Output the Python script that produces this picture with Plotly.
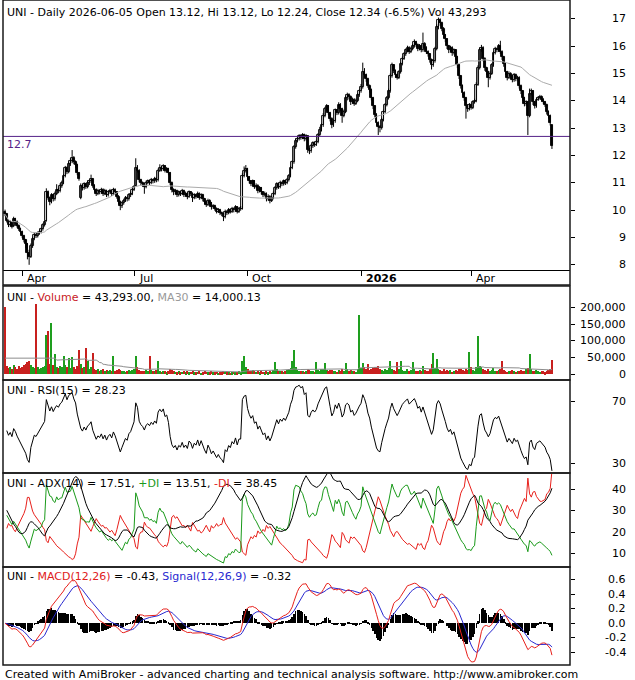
import numpy as np
import pandas as pd
import plotly.graph_objects as go
from plotly.subplots import make_subplots

# ---- data (daily bars, last bar 2026-06-05) ----
dates = pd.bdate_range(end="2026-06-05", periods=319)

opens = [
    9.95, 9.85, 9.60, 9.45, 9.55, 9.42, 9.68, 9.58, 9.42, 9.30,
    9.20, 9.05, 8.90, 8.75, 8.45, 8.30, 8.70, 8.95, 9.10, 9.05,
    9.15, 9.20, 9.30, 9.45, 9.60, 10.65, 10.45, 10.30, 10.55, 10.40,
    10.60, 10.75, 10.70, 10.90, 11.00, 11.25, 11.55, 11.40, 11.70, 11.80,
    11.90, 11.75, 11.65, 11.35, 10.45, 10.90, 10.80, 10.95, 10.85, 11.00,
    11.05, 11.15, 10.90, 10.75, 10.60, 10.70, 10.65, 10.75, 10.60, 10.70,
    10.55, 10.65, 10.70, 10.60, 10.75, 10.65, 10.50, 10.30, 10.15, 10.25,
    10.35, 10.45, 10.40, 10.55, 10.60, 10.75, 10.90, 11.55, 11.45, 11.10,
    11.00, 10.95, 10.85, 11.00, 11.05, 11.00, 11.10, 11.05, 11.15, 11.10,
    11.45, 11.55, 11.50, 11.60, 11.45, 11.50, 11.35, 11.00, 10.75, 10.65,
    10.70, 10.55, 10.65, 10.60, 10.70, 10.55, 10.60, 10.50, 10.65, 10.60,
    10.45, 10.55, 10.50, 10.60, 10.45, 10.55, 10.40, 10.30, 10.20, 10.35,
    10.25, 10.10, 10.15, 10.05, 9.95, 10.00, 9.90, 9.85, 9.75, 9.95,
    9.90, 10.00, 9.95, 10.05, 10.00, 10.10, 9.95, 10.05, 10.05, 11.25,
    11.45, 11.50, 11.20, 11.05, 10.95, 11.05, 10.85, 10.90, 10.70, 10.80,
    10.65, 10.55, 10.60, 10.40, 10.50, 10.35, 10.45, 10.60, 10.80, 10.95,
    10.85, 11.00, 10.95, 11.05, 11.00, 11.10, 11.25, 11.55, 11.75, 12.30,
    12.55, 12.60, 12.70, 12.65, 12.75, 12.60, 12.70, 12.20, 12.15, 12.35,
    12.45, 12.40, 12.50, 12.75, 12.95, 13.10, 13.45, 13.70, 13.80, 13.55,
    13.35, 13.10, 13.25, 13.65, 13.55, 13.85, 13.70, 13.45, 13.60, 14.10,
    14.20, 14.15, 13.95, 14.05, 13.90, 14.00, 14.20, 14.35, 14.50, 15.05,
    14.95, 14.80, 14.55, 14.40, 14.10, 13.80, 13.50, 13.20, 13.05, 13.00,
    13.30, 13.60, 13.85, 14.10, 14.35, 14.90, 15.30, 15.10, 14.95, 14.85,
    15.05, 15.35, 15.55, 15.70, 15.85, 15.95, 15.80, 15.90, 16.00, 16.15,
    16.05, 15.90, 16.00, 15.85, 16.10, 15.95, 15.80, 15.70, 15.50, 15.30,
    15.45, 15.90, 16.70, 16.95, 16.85, 16.65, 16.40, 16.25, 16.00, 15.85,
    15.95, 15.75, 15.85, 15.60, 15.30, 14.90, 14.55, 14.30, 14.10, 13.80,
    13.70, 13.85, 13.75, 13.95, 14.00, 14.60, 15.20, 15.85, 15.95, 15.55,
    15.20, 15.05, 14.85, 15.00, 15.30, 15.75, 15.90, 15.85, 16.00, 15.80,
    15.60, 15.35, 15.05, 14.85, 15.00, 14.90, 14.75, 14.95, 14.80, 14.85,
    14.55, 14.35, 14.10, 13.90, 13.95, 13.45, 14.25, 14.35, 13.95, 13.80,
    14.05, 14.10, 14.15, 14.05, 13.95, 13.85, 13.60, 13.45, 13.12,
]

highs = [
    10.02, 9.90, 9.66, 9.62, 9.60, 9.76, 9.72, 9.62, 9.48, 9.36,
    9.25, 9.10, 8.95, 8.80, 8.55, 8.78, 9.02, 9.18, 9.15, 9.22,
    9.28, 9.36, 9.52, 9.62, 10.80, 10.72, 10.50, 10.62, 10.60, 10.68,
    10.95, 10.82, 10.98, 11.08, 11.32, 11.62, 11.60, 11.78, 11.90, 12.20,
    11.98, 11.82, 11.70, 11.40, 10.98, 10.95, 11.02, 11.00, 11.08, 11.12,
    11.30, 11.18, 10.95, 10.80, 10.78, 10.75, 10.82, 10.80, 10.78, 10.75,
    10.72, 10.78, 10.75, 10.82, 10.80, 10.70, 10.55, 10.35, 10.32, 10.42,
    10.52, 10.50, 10.62, 10.68, 10.82, 10.92, 11.90, 11.65, 11.50, 11.15,
    11.05, 11.00, 11.08, 11.12, 11.10, 11.18, 11.15, 11.22, 11.20, 11.52,
    11.68, 11.62, 11.68, 11.65, 11.58, 11.55, 11.40, 11.05, 10.80, 10.78,
    10.75, 10.72, 10.70, 10.78, 10.75, 10.68, 10.65, 10.72, 10.70, 10.65,
    10.62, 10.60, 10.68, 10.65, 10.62, 10.60, 10.45, 10.35, 10.42, 10.40,
    10.30, 10.22, 10.20, 10.10, 10.08, 10.05, 9.95, 9.90, 10.02, 10.00,
    10.08, 10.05, 10.12, 10.10, 10.18, 10.15, 10.12, 10.15, 11.35, 11.60,
    11.65, 11.55, 11.25, 11.10, 11.12, 11.10, 10.98, 10.95, 10.88, 10.85,
    10.70, 10.68, 10.65, 10.58, 10.55, 10.52, 10.68, 10.88, 11.02, 11.00,
    11.08, 11.05, 11.12, 11.10, 11.18, 11.32, 11.62, 11.82, 12.38, 12.62,
    12.70, 12.78, 12.78, 12.82, 12.80, 12.78, 12.72, 12.28, 12.42, 12.52,
    12.50, 12.58, 12.82, 13.05, 13.18, 13.55, 13.78, 13.88, 13.85, 13.60,
    13.40, 13.32, 13.72, 13.70, 13.95, 13.92, 13.75, 13.68, 14.18, 14.30,
    14.28, 14.20, 14.12, 14.10, 14.08, 14.28, 14.42, 14.62, 15.40, 15.20,
    15.00, 14.85, 14.60, 14.45, 14.15, 13.85, 13.55, 13.25, 13.12, 13.38,
    13.68, 13.92, 14.18, 14.45, 15.00, 15.40, 15.35, 15.15, 15.00, 15.12,
    15.42, 15.62, 15.78, 15.92, 16.02, 16.00, 15.98, 16.08, 16.25, 16.20,
    16.10, 16.08, 16.05, 16.50, 16.15, 16.00, 15.85, 15.75, 15.55, 15.52,
    15.98, 16.80, 17.05, 17.02, 16.90, 16.70, 16.45, 16.30, 16.05, 16.02,
    16.00, 15.92, 15.90, 15.65, 15.35, 14.95, 14.60, 14.35, 14.15, 13.88,
    13.92, 13.90, 14.02, 14.08, 14.68, 15.30, 15.95, 16.05, 16.00, 15.60,
    15.25, 15.10, 15.08, 15.38, 15.82, 15.98, 15.95, 16.08, 16.20, 15.85,
    15.65, 15.40, 15.10, 15.08, 15.05, 14.95, 15.02, 15.00, 14.92, 14.90,
    14.60, 14.40, 14.15, 14.02, 14.00, 14.45, 14.45, 14.40, 14.00, 14.12,
    14.18, 14.22, 14.20, 14.10, 14.00, 13.90, 13.65, 13.50, 13.12,
]

lows = [
    9.78, 9.55, 9.38, 9.40, 9.33, 9.38, 9.50, 9.36, 9.24, 9.12,
    8.98, 8.82, 8.62, 8.20, 8.00, 8.25, 8.62, 8.90, 8.98, 9.00,
    9.10, 9.15, 9.25, 9.40, 9.58, 10.38, 10.18, 10.25, 10.32, 10.35,
    10.55, 10.62, 10.65, 10.82, 10.95, 11.20, 11.32, 11.35, 11.62, 11.72,
    11.68, 11.55, 11.28, 11.08, 10.40, 10.72, 10.75, 10.78, 10.80, 10.92,
    11.00, 10.82, 10.68, 10.52, 10.55, 10.58, 10.60, 10.52, 10.55, 10.48,
    10.50, 10.60, 10.52, 10.55, 10.58, 10.42, 10.22, 10.00, 10.08, 10.20,
    10.30, 10.32, 10.35, 10.48, 10.55, 10.70, 10.88, 11.38, 11.02, 10.92,
    10.88, 10.60, 10.80, 10.95, 10.92, 10.95, 10.98, 11.00, 11.02, 11.05,
    11.40, 11.42, 11.45, 11.38, 11.40, 11.28, 10.92, 10.65, 10.55, 10.58,
    10.48, 10.50, 10.52, 10.55, 10.48, 10.50, 10.40, 10.45, 10.52, 10.30,
    10.40, 10.42, 10.45, 10.38, 10.40, 10.32, 10.22, 10.12, 10.15, 10.18,
    10.02, 10.05, 9.98, 9.88, 9.90, 9.82, 9.78, 9.60, 9.70, 9.82,
    9.85, 9.88, 9.90, 9.92, 9.95, 9.88, 9.90, 9.98, 10.02, 11.20,
    11.38, 11.12, 10.98, 10.88, 10.90, 10.78, 10.80, 10.62, 10.65, 10.58,
    10.48, 10.50, 10.32, 10.35, 10.25, 10.30, 10.40, 10.55, 10.75, 10.78,
    10.80, 10.88, 10.90, 10.92, 10.95, 11.05, 11.20, 11.50, 11.70, 12.25,
    12.48, 12.55, 12.58, 12.60, 12.52, 12.55, 12.10, 12.05, 12.10, 12.28,
    12.32, 12.35, 12.45, 12.70, 12.88, 13.05, 13.40, 13.62, 13.48, 13.25,
    13.00, 13.05, 13.20, 13.48, 13.50, 13.62, 13.20, 13.40, 13.55, 14.02,
    14.05, 13.85, 13.90, 13.82, 13.85, 13.95, 14.15, 14.30, 14.45, 14.85,
    14.70, 14.48, 14.30, 14.02, 13.70, 13.40, 13.10, 12.75, 12.85, 12.95,
    13.25, 13.55, 13.80, 14.05, 14.30, 14.85, 15.02, 14.85, 14.78, 14.80,
    15.00, 15.30, 15.50, 15.65, 15.78, 15.72, 15.75, 15.85, 15.95, 15.98,
    15.82, 15.85, 15.78, 15.80, 15.88, 15.72, 15.62, 15.40, 15.15, 15.25,
    15.40, 15.85, 16.62, 16.75, 16.55, 16.30, 16.15, 15.90, 15.75, 15.80,
    15.65, 15.70, 15.50, 15.20, 14.80, 14.45, 14.20, 14.00, 13.35, 13.60,
    13.65, 13.68, 13.70, 13.90, 13.95, 14.55, 15.15, 15.80, 15.45, 15.10,
    14.95, 14.50, 14.78, 14.95, 15.25, 15.70, 15.78, 15.80, 15.72, 15.50,
    15.25, 14.95, 14.75, 14.80, 14.82, 14.68, 14.70, 14.72, 14.75, 14.45,
    14.25, 14.00, 13.80, 13.82, 12.75, 13.40, 14.20, 13.85, 13.72, 13.75,
    14.00, 14.05, 13.98, 13.88, 13.78, 13.50, 13.35, 13.10, 12.24,
]

closes = [
    9.85, 9.62, 9.45, 9.55, 9.40, 9.68, 9.58, 9.42, 9.30, 9.20,
    9.05, 8.90, 8.75, 8.45, 8.30, 8.70, 8.95, 9.10, 9.05, 9.15,
    9.20, 9.30, 9.45, 9.55, 10.65, 10.45, 10.30, 10.55, 10.40, 10.60,
    10.75, 10.70, 10.90, 11.00, 11.25, 11.55, 11.40, 11.70, 11.80, 11.90,
    11.75, 11.65, 11.35, 11.15, 10.90, 10.80, 10.95, 10.85, 11.00, 11.05,
    11.15, 10.90, 10.75, 10.60, 10.70, 10.65, 10.75, 10.60, 10.70, 10.55,
    10.65, 10.70, 10.60, 10.75, 10.65, 10.50, 10.30, 10.15, 10.25, 10.35,
    10.45, 10.40, 10.55, 10.60, 10.75, 10.85, 11.55, 11.45, 11.10, 11.00,
    10.95, 10.85, 11.00, 11.05, 11.00, 11.10, 11.05, 11.15, 11.10, 11.45,
    11.55, 11.50, 11.60, 11.45, 11.50, 11.35, 11.00, 10.75, 10.65, 10.70,
    10.55, 10.65, 10.60, 10.70, 10.55, 10.60, 10.50, 10.65, 10.60, 10.45,
    10.55, 10.50, 10.60, 10.45, 10.55, 10.40, 10.30, 10.20, 10.35, 10.25,
    10.10, 10.15, 10.05, 9.95, 10.00, 9.90, 9.85, 9.75, 9.95, 9.90,
    10.00, 9.95, 10.05, 10.00, 10.10, 9.95, 10.05, 10.05, 11.25, 11.45,
    11.50, 11.20, 11.05, 10.95, 11.05, 10.85, 10.90, 10.70, 10.80, 10.65,
    10.55, 10.60, 10.40, 10.50, 10.35, 10.45, 10.60, 10.80, 10.95, 10.85,
    11.00, 10.95, 11.05, 11.00, 11.10, 11.25, 11.55, 11.75, 12.30, 12.55,
    12.60, 12.70, 12.65, 12.75, 12.60, 12.70, 12.20, 12.15, 12.35, 12.45,
    12.40, 12.50, 12.75, 12.95, 13.10, 13.45, 13.70, 13.80, 13.55, 13.35,
    13.10, 13.25, 13.65, 13.55, 13.85, 13.70, 13.45, 13.60, 14.10, 14.20,
    14.15, 13.95, 14.05, 13.90, 14.00, 14.20, 14.35, 14.50, 15.05, 14.95,
    14.80, 14.55, 14.40, 14.10, 13.80, 13.50, 13.20, 13.05, 13.00, 13.30,
    13.60, 13.85, 14.10, 14.35, 14.90, 15.30, 15.10, 14.95, 14.85, 15.05,
    15.35, 15.55, 15.70, 15.85, 15.95, 15.80, 15.90, 16.00, 16.15, 16.05,
    15.90, 16.00, 15.85, 16.10, 15.95, 15.80, 15.70, 15.50, 15.30, 15.45,
    15.90, 16.70, 16.95, 16.85, 16.65, 16.40, 16.25, 16.00, 15.85, 15.95,
    15.75, 15.85, 15.60, 15.30, 14.90, 14.55, 14.30, 14.10, 13.80, 13.70,
    13.85, 13.75, 13.95, 14.00, 14.60, 15.20, 15.85, 15.95, 15.55, 15.20,
    15.05, 14.85, 15.00, 15.30, 15.75, 15.90, 15.85, 16.00, 15.80, 15.60,
    15.35, 15.05, 14.85, 15.00, 14.90, 14.75, 14.95, 14.80, 14.85, 14.55,
    14.35, 14.10, 13.90, 13.95, 13.45, 14.25, 14.35, 13.95, 13.80, 14.05,
    14.10, 14.15, 14.05, 13.95, 13.85, 13.60, 13.45, 13.20, 12.34,
]

# volume in thousands of shares
volume_k = [
    203, 25, 18, 22, 15, 28, 20, 16, 24, 19,
    22, 26, 30, 35, 40, 28, 22, 18, 212, 20,
    16, 18, 22, 25, 117, 131, 30, 153, 26, 60,
    22, 18, 25, 20, 54, 28, 22, 48, 18, 51,
    20, 15, 25, 72, 30, 18, 22, 78, 38, 15,
    20, 63, 14, 12, 16, 10, 12, 15, 9, 11,
    8, 12, 10, 54, 9, 11, 14, 12, 8, 10,
    7, 9, 11, 8, 12, 15, 54, 20, 12, 9,
    10, 8, 12, 9, 54, 11, 8, 10, 12, 38,
    9, 7, 10, 8, 6, 9, 14, 12, 8, 7,
    6, 8, 5, 7, 9, 6, 8, 5, 7, 10,
    6, 5, 7, 8, 4, 6, 9, 7, 5, 6,
    8, 5, 6, 7, 4, 6, 5, 9, 7, 5,
    6, 4, 5, 7, 6, 5, 8, 6, 40, 54,
    22, 14, 10, 8, 12, 9, 7, 10, 6, 8,
    7, 5, 9, 6, 8, 7, 12, 35, 14, 9,
    8, 10, 7, 9, 12, 15, 18, 40, 72, 20,
    12, 9, 8, 10, 7, 9, 15, 11, 8, 10,
    7, 35, 12, 10, 14, 16, 33, 12, 9, 11,
    13, 8, 10, 7, 12, 9, 14, 10, 33, 15,
    10, 12, 8, 9, 7, 14, 177, 18, 33, 20,
    14, 30, 12, 16, 18, 20, 22, 25, 15, 12,
    10, 14, 12, 18, 38, 16, 12, 10, 35, 14,
    40, 12, 10, 8, 14, 9, 12, 37, 16, 10,
    8, 12, 9, 25, 11, 8, 10, 14, 30, 63,
    18, 45, 16, 12, 10, 14, 9, 12, 8, 11,
    7, 10, 12, 9, 14, 16, 12, 10, 15, 13,
    66, 20, 12, 10, 22, 114, 25, 20, 14, 12,
    10, 16, 9, 12, 18, 10, 8, 12, 14, 39,
    11, 9, 7, 10, 8, 12, 9, 7, 10, 8,
    12, 10, 9, 14, 18, 60, 15, 10, 8, 12,
    9, 7, 10, 8, 6, 9, 12, 14, 43.293,
]

support_level = 12.7
price_ticks = [8, 9, 10, 11, 12, 13, 14, 15, 16, 17]
volume_ticks = [0, 50000, 100000, 150000, 200000]
rsi_ticks = [30, 70]
adx_ticks = [10, 20, 30, 40]
macd_ticks = [-0.4, -0.2, 0.0, 0.2, 0.4, 0.6]
month_ticks = [("2025-04", "Apr"), ("2025-07", "Jul"), ("2025-10", "Oct"),
               ("2026-01", "<b>2026</b>"), ("2026-04", "Apr")]

title_price = "UNI - Daily 2026-06-05 Open 13.12, Hi 13.12, Lo 12.24, Close 12.34 (-6.5%) Vol 43,293"
title_vol = ("UNI - <span style='color:#c8201e'>Volume</span> = 43,293.00, "
             "<span style='color:#9a9a9a'>MA30</span> = 14,000.13")
title_rsi = "UNI - RSI(15) = 28.23"
title_adx = ("UNI - ADX(14) = 17.51, <span style='color:#1a9a1a'>+DI</span> = 13.51, "
             "<span style='color:#e0201b'>-DI</span> = 38.45")
title_macd = ("UNI - <span style='color:#e0201b'>MACD(12,26)</span> = -0.43, "
              "<span style='color:#2828d0'>Signal(12,26,9)</span> = -0.32")
footer = "Created with AmiBroker - advanced charting and technical analysis software. http://www.amibroker.com"

# ---- indicators ----
idx = np.arange(len(closes))
close = pd.Series(closes, dtype=float)
high = pd.Series(highs, dtype=float)
low = pd.Series(lows, dtype=float)
vol = pd.Series(volume_k, dtype=float) * 1000


def wilder(x, n, warm=3):
    # Wilder smoothing; no history before the first bar, so the starting
    # state is estimated from the mean of the first warm*n values
    x = np.asarray(x, dtype=float)
    out = np.empty_like(x)
    s = np.mean(x[:warm * n])
    for t, v in enumerate(x):
        s = s + (v - s) / n
        out[t] = s
    return out


ma50 = close.rolling(50, min_periods=1).mean()
vol_ma30 = vol.rolling(30).mean().bfill()

delta = close.diff().iloc[1:].values
gain = wilder(np.clip(delta, 0, None), 15)
loss = wilder(np.clip(-delta, 0, None), 15)
rsi = 100 - 100 / (1 + gain / loss)

prev_close = close.shift(1)
tr = pd.concat([high - low, (high - prev_close).abs(), (low - prev_close).abs()], axis=1).max(axis=1)
up_move = high.diff()
down_move = -low.diff()
plus_dm = np.where((up_move > down_move) & (up_move > 0), up_move, 0.0)
minus_dm = np.where((down_move > up_move) & (down_move > 0), down_move, 0.0)
atr = wilder(tr.values[1:], 14)
plus_di = 100 * wilder(plus_dm[1:], 14) / atr
minus_di = 100 * wilder(minus_dm[1:], 14) / atr
dx = 100 * np.abs(plus_di - minus_di) / (plus_di + minus_di)
adx = wilder(dx, 14)

ema12 = close.ewm(span=12, adjust=False).mean()
ema26 = close.ewm(span=26, adjust=False).mean()
macd = ema12 - ema26
signal = macd.ewm(span=9, adjust=False).mean()
hist = macd - signal

up_bar = [c >= o for o, c in zip(opens, closes)]
vol_colors = ["#1e9e1e" if u else "#c8201e" for u in up_bar]
body_base = [min(o, c) for o, c in zip(opens, closes)]
body_size = [max(abs(c - o), 0.02) for o, c in zip(opens, closes)]
body_fill = ["white" if u else "black" for u in up_bar]
wick_x, wick_y = [], []
for i, h, l in zip(idx, highs, lows):
    wick_x += [i, i, None]
    wick_y += [l, h, None]

# ---- layout helpers (pixel rows of the 665 px plot block) ----
H = 665.0


def fy(px):
    return (H - px) / H


fig = make_subplots(rows=5, cols=1, shared_xaxes=True)

fig.add_trace(go.Scatter(x=wick_x, y=wick_y, mode="lines", line=dict(color="black", width=1),
                         hoverinfo="skip"), row=1, col=1)
fig.add_trace(go.Bar(x=idx, y=body_size, base=body_base, width=1.1,
                     marker=dict(color=body_fill, line=dict(color="black", width=0.9)),
                     hoverinfo="skip"), row=1, col=1)
fig.add_trace(go.Scatter(x=idx, y=ma50, mode="lines",
                         line=dict(color="#ababab", width=1)), row=1, col=1)

fig.add_trace(go.Bar(x=idx, y=vol, marker_color=vol_colors, marker_line_width=0,
                     width=0.6), row=2, col=1)
fig.add_trace(go.Scatter(x=idx, y=vol_ma30, mode="lines",
                         line=dict(color="#8c8c8c", width=1)), row=2, col=1)

fig.add_trace(go.Scatter(x=idx[1:], y=rsi, mode="lines",
                         line=dict(color="black", width=1)), row=3, col=1)

fig.add_trace(go.Scatter(x=idx[1:], y=minus_di, mode="lines",
                         line=dict(color="#e8201b", width=1)), row=4, col=1)
fig.add_trace(go.Scatter(x=idx[1:], y=plus_di, mode="lines",
                         line=dict(color="#1a9a1a", width=1)), row=4, col=1)
fig.add_trace(go.Scatter(x=idx[1:], y=adx, mode="lines",
                         line=dict(color="black", width=1)), row=4, col=1)

fig.add_trace(go.Bar(x=idx, y=hist, marker_color="black", marker_line_width=0,
                     width=0.32), row=5, col=1)
fig.add_trace(go.Scatter(x=idx, y=signal, mode="lines",
                         line=dict(color="#2828d0", width=1)), row=5, col=1)
fig.add_trace(go.Scatter(x=idx, y=macd, mode="lines",
                         line=dict(color="#e8201b", width=1)), row=5, col=1)

font = dict(family="DejaVu Sans, Verdana, sans-serif", size=11, color="black")
fig.update_layout(
    width=635, height=680,
    margin=dict(l=3, r=65, t=0, b=15),
    paper_bgcolor="white", plot_bgcolor="white",
    showlegend=False, font=font, bargap=0,
)

x_range = [-1.2, 328.5]
fig.update_xaxes(range=x_range, showgrid=False, zeroline=False, showticklabels=False, ticks="")

month_idx = [int(np.argmax(dates >= pd.Timestamp(m + "-01"))) for m, _ in month_ticks]
fig.update_xaxes(row=1, col=1, tickvals=month_idx, ticks="outside", ticklen=5,
                 tickcolor="black", showline=True, linecolor="black", linewidth=1)

domains = [(fy(270), fy(2)), (fy(380), fy(287)), (fy(473), fy(381)),
           (fy(566), fy(474)), (fy(664), fy(568))]
ranges = [[7.81, 17.62], [-18000, 263000], [23.5, 83.5], [3.9, 47.5], [-0.56, 0.76]]
tick_sets = [price_ticks, volume_ticks, rsi_ticks, adx_ticks, macd_ticks]
tick_texts = [
    [str(t) for t in price_ticks],
    ["{:,}".format(t) for t in volume_ticks],
    [str(t) for t in rsi_ticks],
    [str(t) for t in adx_ticks],
    ["{:.1f}".format(t) for t in macd_ticks],
]
for r in range(5):
    fig.update_yaxes(row=r + 1, col=1, domain=list(domains[r]), range=ranges[r],
                     side="right", showgrid=False, zeroline=False, tickvals=tick_sets[r],
                     showticklabels=False, ticks="outside", ticklen=4, tickcolor="black")

ann = []
# right-aligned value labels
label_x = (628 - 3) / 567.0
for r in range(5):
    yref = "y" if r == 0 else "y%d" % (r + 1)
    for v, t in zip(tick_sets[r], tick_texts[r]):
        ann.append(dict(xref="paper", yref=yref, x=label_x, y=v, text=t, showarrow=False,
                        xanchor="right", yanchor="middle", font=font))

# date labels (left aligned next to the tick)
for (m, lab), i in zip(month_ticks, month_idx):
    ann.append(dict(xref="x", yref="paper", x=i + 1.5, y=fy(278), text=lab, showarrow=False,
                    xanchor="left", yanchor="middle", font=font))

# panel titles
for txt, top in [(title_price, 4), (title_vol, 289), (title_rsi, 382),
                 (title_adx, 475), (title_macd, 568)]:
    ann.append(dict(xref="paper", yref="paper", x=0.004, y=fy(top), text=txt, showarrow=False,
                    xanchor="left", yanchor="top", font=font))

ann.append(dict(xref="paper", yref="y", x=0.004, y=support_level, text="12.7",
                showarrow=False, xanchor="left", yanchor="top",
                font=dict(family=font["family"], size=11, color="#552288")))
ann.append(dict(xref="paper", yref="paper", x=0.0, y=fy(674), text=footer, showarrow=False,
                xanchor="left", yanchor="middle", font=font))
fig.update_layout(annotations=ann)

shapes = [dict(type="line", xref="x domain", yref="y", x0=0, x1=1, y0=support_level,
               y1=support_level, line=dict(color="#552288", width=1))]
# panel frames
for top, bot in [(0, 285), (286, 380), (380, 473), (473, 567), (567, 665)]:
    shapes.append(dict(type="rect", xref="paper", yref="paper", x0=0, x1=1,
                       y0=fy(bot), y1=fy(top), line=dict(color="#1a1a1a", width=1.5)))
fig.update_layout(shapes=shapes)

fig.write_html("out.html", config={"displayModeBar": False},
               post_script="document.body.style.margin='0px';")
